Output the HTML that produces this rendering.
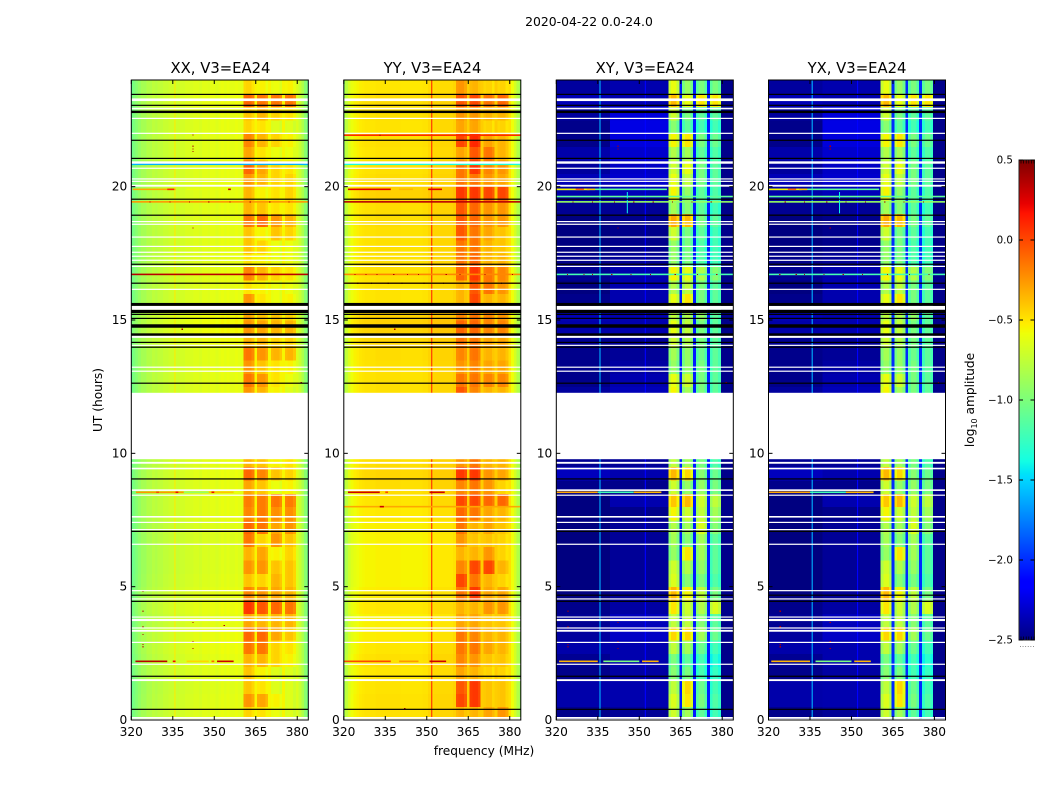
<!DOCTYPE html>
<html lang="en">
<head>
<meta charset="utf-8">
<title>2020-04-22 0.0-24.0</title>
<style>
html,body{margin:0;padding:0;background:#fff;width:1050px;height:800px;overflow:hidden}
svg{display:block}
text{font-family:"DejaVu Sans","Liberation Sans",sans-serif;fill:#000}
.tick{font-size:12.2px}
.cb{font-size:10.3px}
.title{font-size:14.8px;text-anchor:middle}
.axis{font-size:12.2px;text-anchor:middle}
</style>
</head>
<body>
<svg id="chart" width="1050" height="800" viewBox="0 0 1050 800" xmlns="http://www.w3.org/2000/svg">
  <text x="589" y="26" style="font-size:12.4px;text-anchor:middle">2020-04-22 0.0-24.0</text>
  <text class="title" x="220.5" y="73">XX, V3=EA24</text>
  <text class="title" x="432.5" y="73">YY, V3=EA24</text>
  <text class="title" x="645" y="73">XY, V3=EA24</text>
  <text class="title" x="857" y="73">YX, V3=EA24</text>
  <text class="axis" transform="translate(102,400) rotate(-90)">UT (hours)</text>
  <text class="axis" x="484" y="755">frequency (MHz)</text>
  <text class="axis" transform="translate(974,400) rotate(-90)">log<tspan dy="3" style="font-size:8px">10</tspan><tspan dy="-3"> amplitude</tspan></text>
</svg>
<script>
// ---- Axis tick data ----
const freqTicks = [320, 335, 350, 365, 380];
const hourTicks = [0, 5, 10, 15, 20];
const colorTicks = [0.5, 0, -0.5, -1, -1.5, -2, -2.5];
const colorTickLabels = ['0.5', '0.0', '\u22120.5', '\u22121.0', '\u22121.5', '\u22122.0', '\u22122.5'];

// ---- Per-channel log10 amplitude (channels centred 320..384 MHz) ----
const xxSpectrum = [-1.1,-1.0,-.95,-.9,-.85,-.85,-.8,-.8,-.76,-.78,-.75,-.75,-.72,-.72,-.7,-.7,-.7,-.7,-.68,-.68,-.66,-.66,-.66,-.64,-.64,-.66,-.63,-.63,-.64,-.62,-.62,-.64,-.62,-.6,-.62,-.6,-.62,-.62,-.6,-.62,-.62, -.06,-.04,-.04,-.1,-.55, -.06,-.04,-.04,-.1,-.55, -.06,-.04,-.04,-.1,-.55, -.06,-.04,-.04,-.1, -.65,-.72,-.82,-.95,-1.05];
const yySpectrum = [-.9,-.72,-.62,-.55,-.52,-.5,-.48,-.47,-.46,-.46,-.46,-.46,-.45,-.45,-.45,-.45,-.45,-.45,-.45,-.45,-.45,-.46,-.46,-.46,-.46,-.46,-.46,-.46,-.46,-.45,-.45,-.42,-.44,-.42,-.42,-.42,-.42,-.42,-.42,-.42,-.4, -.06,-.04,-.04,-.1,-.42, -.06,-.04,-.04,-.1,-.42, -.06,-.04,-.04,-.1,-.42, -.06,-.04,-.04,-.1, -.48,-.58,-.68,-.8,-.9];
const xySpectrum = [0,0,0,0,0,0,0,0,0,0,0,0,0,0,0,0,0,0,0,0,0,0,0,0,0,0,0,0,0,0,0,0,0,0,0,0,0,0,0,0,0, -.12,0,0,-.15,-2.05, -.12,0,0,-.15,-2.05, -.12,0,0,-.15,-2.05, -.12,0,0,-.1, -2.47,-2.47,-2.47,-2.47,-2.47];
const yxSpectrum = [0,0,0,0,0,0,0,0,0,0,0,0,0,0,0,0,0,0,0,0,0,0,0,0,0,0,0,0,0,0,0,0,0,0,0,0,0,0,0,0,0, -.12,0,0,-.15,-2.0, -.12,0,0,-.15,-2.0, -.12,0,0,-.15,-2.0, -.12,0,0,-.1, -2.47,-2.47,-2.47,-2.47,-2.47];

// Which time-series each channel follows: 0 low band, 1 mid band, 2-5 the four RFI lobes, -1 constant
const channelBand = [0,0,0,0,0,0,0,0,0,0,0,0,0,0,0,0,0,0,0,0,1,1,1,1,1,1,1,1,1,1,1,1,1,1,1,1,1,1,1,1,1,2,2,2,2,-1,3,3,3,3,-1,4,4,4,4,-1,5,5,5,5,-1,-1,-1,-1,-1];

// ---- Half-hour band levels, row 0 = 00:00 ----
const xxBackground = [0,-.01,-.02,0,0,.02,.02,0,.02,0,-.02,-.03,-.03,-.03,-.02,0,0,0,.01,0,0,0,0,0,0,0,0,0,.03,.05,.05,0,0,0,0,0,0,0,0,0,0,0,0,0,0,0,.02,0];
const xxLobe1 = [-.4,-.2,-.35,-.35,-.3,-.1,-.05,-.25,.1,-.15,-.35,-.2,-.3,-.1,-.05,-.15,-.12,-.25,-.05,-.3,-.5,-.5,-.5,-.5,-.2,-.1,-.2,-.1,-.3,-.2,-.25,-.2,-.45,-.15,-.45,-.35,-.35,-.1,-.3,-.3,-.2,-.05,-.25,-.15,-.4,-.35,-.05,-.4];
const xxLobe2 = [-.45,-.25,-.45,-.5,-.3,-.1,-.05,-.3,0,-.2,-.4,-.2,-.25,-.4,-.1,-.12,-.12,-.35,-.15,-.35,-.5,-.5,-.5,-.5,-.3,-.2,-.35,-.2,-.3,-.25,-.35,-.45,-.5,-.3,-.5,-.4,-.5,-.05,-.35,-.5,-.3,-.25,-.45,-.3,-.45,-.3,-.1,-.5];
const xxLobe3 = [-.55,-.5,-.6,-.6,-.4,-.4,-.25,-.3,-.05,-.25,-.3,-.35,-.5,-.2,-.25,-.18,-.1,-.55,-.35,-.5,-.5,-.5,-.5,-.5,-.5,-.45,-.45,-.3,-.4,-.3,-.35,-.55,-.55,-.4,-.55,-.55,-.35,-.2,-.45,-.45,-.4,-.4,-.55,-.4,-.6,-.4,-.1,-.55];
const xxLobe4 = [-.6,-.6,-.6,-.6,-.5,-.45,-.35,-.3,-.1,-.3,-.35,-.35,-.4,-.35,-.2,-.18,-.12,-.5,-.4,-.45,-.5,-.5,-.5,-.5,-.6,-.55,-.5,-.3,-.4,-.3,-.4,-.5,-.55,-.45,-.55,-.55,-.4,-.3,-.45,-.4,-.4,-.45,-.55,-.5,-.6,-.45,-.1,-.5];

const yyBackground = [-.03,-.03,-.04,-.05,-.03,-.05,-.07,-.08,-.05,-.07,-.09,-.09,-.09,-.09,-.08,-.06,-.04,-.02,0,-.02,0,0,0,0,-.03,-.03,-.03,-.02,0,.02,.02,-.04,-.04,-.03,-.03,-.03,-.03,-.02,-.02,.02,-.02,-.03,-.04,-.03,-.04,-.03,-.02,-.05];
const yyLobe1 = [-.3,.05,0,-.25,-.15,-.1,-.1,-.25,-.3,-.1,.05,-.15,-.3,-.2,-.1,-.05,.05,-.15,.1,-.2,-.3,-.3,-.3,-.3,0,-.1,-.2,-.15,-.1,-.05,-.15,-.3,-.3,-.05,-.1,-.1,0,0,0,.1,-.1,-.1,-.25,.05,-.25,-.2,0,-.2];
const yyLobe2 = [-.3,.1,.1,-.3,-.2,-.1,-.15,-.25,-.3,.1,-.1,.05,-.3,-.35,-.3,-.1,.05,-.1,.1,-.1,-.3,-.3,-.3,-.3,-.15,-.1,-.15,-.1,-.1,-.05,-.1,.05,0,.1,-.05,-.1,-.1,-.05,-.05,.1,-.1,.1,0,.15,-.25,-.2,.05,-.3];
const yyLobe3 = [-.25,-.35,-.35,-.4,-.35,-.25,-.3,-.35,-.2,-.25,-.3,.05,-.2,-.35,-.25,-.25,-.05,-.2,-.2,-.3,-.3,-.3,-.3,-.3,-.3,-.15,-.25,-.3,-.25,-.15,-.15,-.3,-.1,-.1,-.3,-.3,-.25,-.2,-.2,.05,-.2,-.15,-.1,-.25,-.4,-.3,-.1,-.4];
const yyLobe4 = [-.2,-.35,-.35,-.4,-.35,-.3,-.3,-.35,-.2,-.25,-.4,-.3,-.4,-.4,-.35,-.3,-.05,-.4,-.25,-.3,-.3,-.3,-.3,-.3,-.3,-.15,-.25,-.3,-.25,-.15,-.2,-.3,-.2,-.15,-.3,-.35,-.35,-.2,-.2,.05,-.25,-.2,-.3,-.3,-.4,-.3,-.05,-.4];

const xyLow = [-2.47,-2.39,-2.39,-2.47,-2.45,-2.39,-2.42,-2.45,-2.47,-2.5,-2.5,-2.5,-2.5,-2.5,-2.5,-2.5,-2.5,-2.47,-2.34,-2.45,-2.5,-2.5,-2.5,-2.5,-2.42,-2.47,-2.47,-2.47,-2.45,-2.39,-2.36,-2.47,-2.5,-2.45,-2.47,-2.5,-2.5,-2.5,-2.45,-2.39,-2.36,-2.42,-2.39,-2.47,-2.47,-2.42,-2.36,-2.42];
const xyMid = [-2.44,-2.38,-2.38,-2.41,-2.38,-2.38,-2.32,-2.35,-2.41,-2.44,-2.44,-2.44,-2.44,-2.44,-2.44,-2.47,-2.38,-2.47,-2.38,-2.44,-2.5,-2.5,-2.5,-2.5,-2.35,-2.38,-2.41,-2.44,-2.44,-2.38,-2.38,-2.38,-2.38,-2.38,-2.44,-2.47,-2.47,-2.47,-2.44,-2.35,-2.3,-2.32,-2.3,-2.26,-2.24,-2.26,-2.38,-2.38];
const xyLobe1 = [-.7,-.65,-.75,-.95,-1,-.75,-.45,-.75,-.5,-.35,-.65,-.7,-.9,-.85,-.8,-.55,-.4,-.7,-.35,-.75,-1,-1,-1,-1,-.55,-.6,-.9,-.85,-.7,-.6,-.75,-.6,-.8,-.55,-.9,-.9,-.7,-.3,-.85,-.55,-.6,-.7,-.8,-.55,-.95,-.7,-.35,-.6];
const xyLobe2 = [-.85,-.5,-.45,-1,-1.1,-.85,-.45,-.75,-.7,-.55,-.95,-.8,-.5,-.95,-.85,-.7,-.35,-.9,-.45,-.85,-1,-1,-1,-1,-.85,-.7,-.9,-.9,-.8,-.75,-.8,-.5,-.75,-.6,-1,-1,-1,-.35,-.95,-.9,-.75,-.6,-.85,-.5,-1.1,-1,-.6,-.9];
const xyLobe3 = [-1.1,-1,-1.05,-1.2,-1.2,-1.05,-.85,-.95,-.8,-.75,-1,-.9,-.85,-.85,-.65,-.75,-.7,-.9,-.95,-1,-1,-1,-1,-1,-1,-1,-1,-1.05,-1,-1,-.9,-1,-1,-.8,-1.15,-1.15,-1.1,-1,-1.1,-1.1,-1,-1,-1.1,-1,-1.2,-1.1,-.5,-1];
const xyLobe4 = [-1.2,-1.15,-1.2,-1.25,-1.3,-1.2,-1.05,-1.1,-.65,-1,-1.15,-1.1,-1.1,-1.1,-.95,-.85,-.75,-1,-1.05,-1.15,-1.1,-1.1,-1.1,-1.1,-1.1,-1.1,-1.1,-1.1,-1.1,-1.1,-1.1,-1.1,-1.1,-.95,-1.2,-1.2,-1.2,-1.1,-1.2,-1.15,-1.1,-1.1,-1.15,-1.05,-1.2,-1.1,-.5,-1];

// ---- Interference segments: [freq start, freq end, hour start, hour end, log10 amplitude] ----
const xxSegments = [
  [335.6,335.95,0,24,-.52],
  [320,384,20.81,20.87,-1.6],
  [320.5,336,19.87,19.93,-.3],[340,356,19.87,19.93,-.6],[333,335.5,19.87,19.93,.1],[355,356,19.87,19.93,.3],
  [320,384,19.4,19.46,-.25],
  [320,384,16.68,16.74,.35],
  [321.7,339,8.51,8.57,-.25],[329,330,8.51,8.57,0],[336,337,8.51,8.57,.2],[339,348,8.51,8.57,-.9],[348,357,8.51,8.57,-.4],[349,350,8.51,8.57,.2],
  [321.5,333,2.17,2.23,.35],[335,336,2.17,2.23,.2],[340,348,2.17,2.23,-.45],[349,350,2.17,2.23,-.1],[351,357,2.17,2.23,.3]
];
const yySegments = [
  [351.6,352,0,24,.1],
  [320,384,21.9,21.96,.1],
  [320,384,20.81,20.87,-1.35],
  [321.5,337,19.87,19.93,.25],[340,345,19.87,19.93,-.35],[350.5,355.5,19.87,19.93,.25],
  [320,384,19.4,19.46,.35],
  [320,384,16.68,16.74,-.2],
  [320,384,16.35,16.41,-.25],
  [321.5,333,8.51,8.57,.3],[335,336,8.51,8.57,0],[351,356.5,8.51,8.57,.3],
  [320,384,7.97,8.03,-.3],[333,334.5,7.97,8.03,.3],
  [320,337,2.17,2.23,0],[340,347,2.17,2.23,-.25],[351,357,2.17,2.23,.3]
];
const crossSegments = [
  [335.6,336,0,24,-1.6],
  [352,352.4,0,24,-2.15],
  [320,360,19.87,19.93,-1.1],[320,332,19.87,19.93,-.55],[327,330,19.87,19.93,-.1],[331,334,19.87,19.93,-.4],
  [320,384,19.6,19.66,-1.1],
  [320,384,19.4,19.46,-.9],
  [345.5,345.8,19,19.8,-1.4],
  [320,384,16.68,16.74,-1.2],
  [320,335,8.51,8.57,-.3],[335,348,8.51,8.57,-1.2],[348,358,8.51,8.57,-.35],
  [321,335,2.17,2.23,-.35],[337,350,2.17,2.23,-1],[351,357,2.17,2.23,-.35]
];

// ---- Isolated hot samples: [freq, hour] ----
const xxSpots = [[342.3,21.94],[342.3,21.52],[342.3,21.42],[342.3,21.32],[342.3,18.45],[338.4,14.66],[381.4,12.65],[324.2,4.83],[324.2,4.08],[324.2,3.5],[324.2,3.21],[324.2,2.84],[324.2,2.75],[342.3,3.66],[342.3,2.95],[342.3,2.69],[353.6,3.55],[326.7,19.43],[334,19.43],[341,19.43],[348,19.43],[355.6,19.43],[363,19.43],[370,19.43],[377,19.43]];
const yySpots = [[338.4,14.66],[342,.43],[326.7,19.43],[334,19.43],[324,16.71],[328,16.71],[332,16.71],[338,16.71],[343,16.71],[347,16.71],[357,16.71],[362,16.71],[371,16.71],[381,16.71],[325,16.38],[330,16.38],[336,16.38],[341,16.38],[349,16.38],[356,16.38],[366,16.38],[377,16.38],[333,21.93]];
const crossSpots = [[342.3,21.52],[342.3,21.42],[342.3,18.45],[324.2,4.08],[324.2,3.5],[324.2,2.84],[324.2,2.75],[342.3,3.66],[342.3,2.95],[342.3,2.69],[381.4,12.65],[326,19.43],[333,19.43],[341,19.43],[348,19.43],[355,19.43],[362,19.43],[369,19.43],[376,19.43],[324,16.71],[330,16.71],[333,16.71],[340,16.71],[347,16.71],[354,16.71],[363,16.71],[371,16.71],[378,16.71]];

// ---- Flagged time ranges, hours ----
const whiteSpans = [[23.21,23.31],[22.9,22.96],[20.86,20.95],[20,20.07],[15.38,15.53],[14.33,14.41],[9.78,12.27],[9.61,9.68],[9.4,9.46],[8.59,8.65],[7.59,7.65],[3.71,3.79],[3.31,3.38],[1.46,1.53]];
const whiteLines = [22.56,22,20.69,20.29,20.2,18.69,18.59,18.11,17.76,17.54,17.39,17.24,17.01,16.15,14.05,13.23,13.08,8.43,7.41,7.14,6.59,4.85,4.54,3.86,3.45,2.91,2.09,.09,.04];
const blackSpans = [[22.76,22.85],[15.53,15.64],[15.26,15.38],[14.71,14.84],[14.41,14.5],[7.05,7.1]];
const blackLines = [23.46,23.05,21.74,21.06,19.53,18.93,17.09,16.38,15.21,15.06,14.16,13.98,12.63,9.04,4.68,4.45,1.64,.4];

// ---- Layout ----
const SVGNS = 'http://www.w3.org/2000/svg';
const svg = document.getElementById('chart');
const plotTop = 80, plotBottom = 720, plotWidth = 177;
const hourMax = 24, freqMin = 320, freqMax = 384, rowHours = 0.5;
const colorTop = 160, colorBottom = 640, colorLeft = 1019, colorRight = 1034.5;
const colorMin = -2.5, colorMax = 0.5;
const lineHours = 0.045;

const panels = [
  {key:'xx', left:131.3, spectrum:xxSpectrum, bands:[xxBackground,xxBackground,xxLobe1,xxLobe2,xxLobe3,xxLobe4], segments:xxSegments, spots:xxSpots},
  {key:'yy', left:343.8, spectrum:yySpectrum, bands:[yyBackground,yyBackground,yyLobe1,yyLobe2,yyLobe3,yyLobe4], segments:yySegments, spots:yySpots},
  {key:'xy', left:556.3, spectrum:xySpectrum, bands:[xyLow,xyMid,xyLobe1,xyLobe2,xyLobe3,xyLobe4], segments:crossSegments, spots:crossSpots},
  {key:'yx', left:768.5, spectrum:yxSpectrum, bands:[xyLow,xyMid,xyLobe1,xyLobe2,xyLobe3,xyLobe4], segments:crossSegments, spots:crossSpots}
];

function yScale(hour) { return plotBottom - (hour / hourMax) * (plotBottom - plotTop); }
function xScale(panel, freq) { return panel.left + ((freq - freqMin) / (freqMax - freqMin)) * plotWidth; }
function colorY(v) { return colorBottom - ((v - colorMin) / (colorMax - colorMin)) * (colorBottom - colorTop); }

function ramp(t, pts) {
  for (let i = 1; i < pts.length; i++) {
    if (t <= pts[i][0]) {
      const a = pts[i-1], b = pts[i];
      return a[1] + (b[1]-a[1]) * (t-a[0]) / (b[0]-a[0]);
    }
  }
  return pts[pts.length-1][1];
}
function jet(v) {
  const t = Math.max(0, Math.min(1, (v - colorMin) / (colorMax - colorMin)));
  const r = ramp(t, [[0,0],[.35,0],[.66,1],[.89,1],[1,.5]]);
  const g = ramp(t, [[0,0],[.125,0],[.375,1],[.64,1],[.91,0],[1,0]]);
  const b = ramp(t, [[0,.5],[.11,1],[.34,1],[.65,0],[1,0]]);
  return 'rgb(' + Math.round(r*255) + ',' + Math.round(g*255) + ',' + Math.round(b*255) + ')';
}
function shape(tag, attrs, parent) {
  const el = document.createElementNS(SVGNS, tag);
  for (const k in attrs) el.setAttribute(k, attrs[k]);
  parent.appendChild(el);
  return el;
}

const defs = shape('defs', {}, svg);

panels.forEach(function (panel) {
  const clip = shape('clipPath', {id:'clip-' + panel.key}, defs);
  shape('rect', {x:panel.left, y:plotTop, width:plotWidth, height:plotBottom-plotTop}, clip);

  const group = shape('g', {'clip-path':'url(#clip-' + panel.key + ')', 'shape-rendering':'crispEdges'}, svg);
  
  

  // heatmap cells
  const rowCount = xxLobe1.length;
  panel.spectrum.forEach(function (level, c) {
    const freq = freqMin + c;
    const band = channelBand[c];
    const series = band >= 0 ? panel.bands[band] : null;
    const x0 = xScale(panel, freq - 0.5), x1 = xScale(panel, freq + 0.5);
    for (let r = 0; r < rowCount; r++) {
      const value = level + (series ? series[r] : 0);
      const y1 = yScale(r * rowHours), y0 = yScale((r + 1) * rowHours);
      const cell = shape('rect', {x:x0.toFixed(2), y:y0.toFixed(2), width:(x1-x0+.5).toFixed(2), height:(y1-y0+.5).toFixed(2), fill:jet(value)}, group);
      
      
    }
  });

  // interference segments
  panel.segments.forEach(function (s) {
    const x0 = xScale(panel, s[0]), x1 = xScale(panel, s[1]);
    const y0 = yScale(s[3]), y1 = yScale(s[2]);
    const seg = shape('rect', {x:x0, y:y0, width:Math.max(x1-x0,1), height:Math.max(y1-y0,1), fill:jet(s[4]), 'shape-rendering':'auto'}, group);
    
    
  });

  // isolated hot samples
  panel.spots.forEach(function (p) {
    const spot = shape('rect', {x:xScale(panel, p[0]) - .5, y:yScale(p[1]) - .5, width:1.2, height:1.2, fill:jet(.38)}, group);
    
    
  });

  // flagged ranges
  function band(h0, h1, color, name) {
    const y0 = yScale(h1), y1 = yScale(h0);
    const bar = shape('rect', {x:panel.left, y:y0, width:plotWidth, height:y1-y0, fill:color, 'shape-rendering':'auto'}, group);
    
    
  }
  whiteLines.forEach(function (h) { band(h - lineHours/2, h + lineHours/2, '#fff', 'blank-time-line'); });
  whiteSpans.forEach(function (s) { band(s[0], s[1], '#fff', 'blank-time-span'); });
  blackLines.forEach(function (h) { band(h - lineHours/2, h + lineHours/2, '#000', 'zero-time-line'); });
  blackSpans.forEach(function (s) { band(s[0], s[1], '#000', 'zero-time-span'); });

  // frame
  const frame = shape('rect', {x:panel.left, y:plotTop, width:plotWidth, height:plotBottom-plotTop, fill:'none', stroke:'#000', 'stroke-width':1}, svg);
  
  

  // x ticks
  freqTicks.forEach(function (f) {
    const x = xScale(panel, f);
    const tickB = shape('line', {x1:x, x2:x, y1:plotBottom, y2:plotBottom-4, stroke:'#000', 'stroke-width':1}, svg);
    
    
    const tickT = shape('line', {x1:x, x2:x, y1:plotTop, y2:plotTop+4, stroke:'#000', 'stroke-width':1}, svg);
    
    
    const label = shape('text', {x:x, y:736, class:'tick', 'text-anchor':'middle'}, svg);
    label.textContent = String(f);
    
    
  });

  // y ticks
  hourTicks.forEach(function (h) {
    const y = yScale(h);
    const tickL = shape('line', {x1:panel.left, x2:panel.left+4, y1:y, y2:y, stroke:'#000', 'stroke-width':1}, svg);
    
    
    const tickR = shape('line', {x1:panel.left+plotWidth, x2:panel.left+plotWidth-4, y1:y, y2:y, stroke:'#000', 'stroke-width':1}, svg);
    
    
    const label = shape('text', {x:panel.left-4, y:y+4, class:'tick', 'text-anchor':'end'}, svg);
    label.textContent = String(h);
    
    
  });
});

// ---- Colorbar ----
const cbar = shape('g', {'shape-rendering':'crispEdges'}, svg);


for (let i = 0; i < 240; i++) {
  const v0 = colorMin + (colorMax - colorMin) * i / 240;
  const v1 = colorMin + (colorMax - colorMin) * (i + 1) / 240;
  const step = shape('rect', {x:colorLeft, y:colorY(v1), width:colorRight-colorLeft, height:colorY(v0)-colorY(v1)+.5, fill:jet((v0+v1)/2)}, cbar);
  
  
}
const cbarFrame = shape('rect', {x:colorLeft, y:colorTop, width:colorRight-colorLeft, height:colorBottom-colorTop, fill:'none', stroke:'#222', 'stroke-width':1}, svg);


colorTicks.forEach(function (v, i) {
  const y = colorY(v);
  const tickL = shape('line', {x1:colorLeft, x2:colorLeft+4, y1:y, y2:y, stroke:'#000', 'stroke-width':1}, svg);
  
  
  const tickR = shape('line', {x1:colorRight, x2:colorRight-4, y1:y, y2:y, stroke:'#000', 'stroke-width':1}, svg);
  
  
  const label = shape('text', {x:1013, y:y+3.5, class:'cb', 'text-anchor':'end'}, svg);
  label.textContent = colorTickLabels[i];
  
  
});
for (let x = colorLeft + 2; x < colorRight; x += 2.6) {
  const upper = shape('line', {x1:x, x2:x, y1:colorTop, y2:colorTop+3.5, stroke:'#000', 'stroke-width':.7}, svg);
  
  
  const lower = shape('line', {x1:x, x2:x, y1:colorBottom, y2:colorBottom-3.5, stroke:'#000', 'stroke-width':.7}, svg);
  
  
  const dot = shape('rect', {x:x-1, y:646, width:.9, height:.9, fill:'#777'}, svg);
  
  
}
</script>
</body>
</html>
